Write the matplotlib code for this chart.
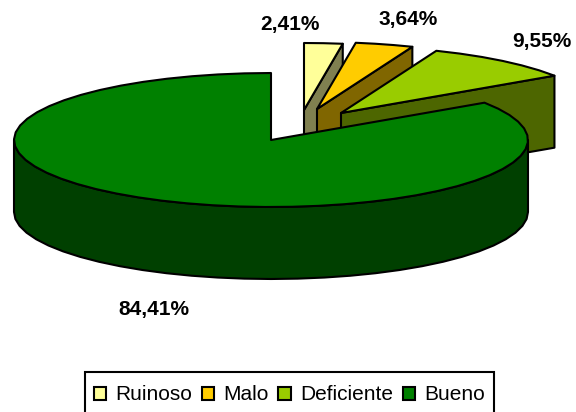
#!/usr/bin/env python3
"""Tarta 3D con porciones separadas, dibujada a mano sobre ejes en píxeles."""

import numpy as np
import matplotlib
matplotlib.use("Agg")
import matplotlib.pyplot as plt
from matplotlib.patches import Patch, Polygon, Rectangle

plt.rcParams["font.family"] = ["Liberation Sans", "DejaVu Sans"]

categorias = ["Ruinoso", "Malo", "Deficiente", "Bueno"]
porcentajes = [2.41, 3.64, 9.55, 84.41]
etiquetas = ["2,41%", "3,64%", "9,55%", "84,41%"]

color_tapa = ["#FFFF99", "#FFCC00", "#99CC00", "#008000"]
color_lado = ["#808050", "#806600", "#4D6600", "#004000"]

# centro de cada porción (en píxeles) una vez separada
centros = [(304, 110), (317, 109), (341, 113), (271, 140)]
pos_etiquetas = [(290, 24), (408, 19), (542, 41), (154, 309)]

RX, RY, FONDO = 257, 67, 72
PASO = 6  # el original tiene los arcos facetados
BORDE = dict(edgecolor="black", linewidth=1.5, joinstyle="round")


def punto(c, ang):
    """Ángulo en grados, en sentido horario desde las 12."""
    a = np.radians(ang)
    return np.column_stack([c[0] + RX * np.sin(a), c[1] - RY * np.cos(a)])


def tramo(a0, a1):
    return np.linspace(a0, a1, int(np.ceil((a1 - a0) / PASO)) + 1)


def dibujar_porcion(ax, c, a0, a1, tapa, lado):
    arco = punto(c, tramo(a0, a1))
    centro = np.array([c], dtype=float)
    abajo = np.array([0, FONDO])

    # cara radial final, visible solo en las porciones separadas
    if a1 < 90:
        cara = np.vstack([centro, arco[-1:], arco[-1:] + abajo, centro + abajo])
        ax.add_patch(Polygon(cara, facecolor=lado, **BORDE))

    # pared exterior: la parte delantera de la elipse
    v0, v1 = max(a0, 90), min(a1, 270)
    if v0 < v1:
        frente = punto(c, tramo(v0, v1))
        pared = np.vstack([frente, frente[::-1] + abajo])
        ax.add_patch(Polygon(pared, facecolor=lado, **BORDE))

    ax.add_patch(Polygon(np.vstack([centro, arco]), facecolor=tapa, **BORDE))


fig = plt.figure(figsize=(5.76, 4.12), dpi=100)
ax = fig.add_axes([0, 0, 1, 1])
ax.set_xlim(0, 576)
ax.set_ylim(412, 0)
ax.axis("off")

angulos = np.concatenate([[0], np.cumsum(porcentajes)]) / sum(porcentajes) * 360
for i in range(len(categorias)):
    dibujar_porcion(ax, centros[i], angulos[i], angulos[i + 1], color_tapa[i], color_lado[i])

for (x, y), txt in zip(pos_etiquetas, etiquetas):
    ax.text(x, y, txt, fontsize=15, fontweight="bold", ha="center", va="center")

# el recuadro de la leyenda se sale por abajo de la imagen
ax.add_patch(Rectangle((85, 372), 409, 60, facecolor="white", edgecolor="black", linewidth=1.5))
handles = [Patch(facecolor=c, edgecolor="black", linewidth=1.5) for c in color_tapa]
ax.legend(
    handles, categorias, ncol=4, fontsize=15, loc="center",
    bbox_to_anchor=(289.5 / 576, 1 - 395 / 412), frameon=False,
    handlelength=0.6, handleheight=0.6, handletextpad=0.45,
    columnspacing=0.45, borderpad=0.45, borderaxespad=0,
)

fig.savefig("out.png", dpi=100)
